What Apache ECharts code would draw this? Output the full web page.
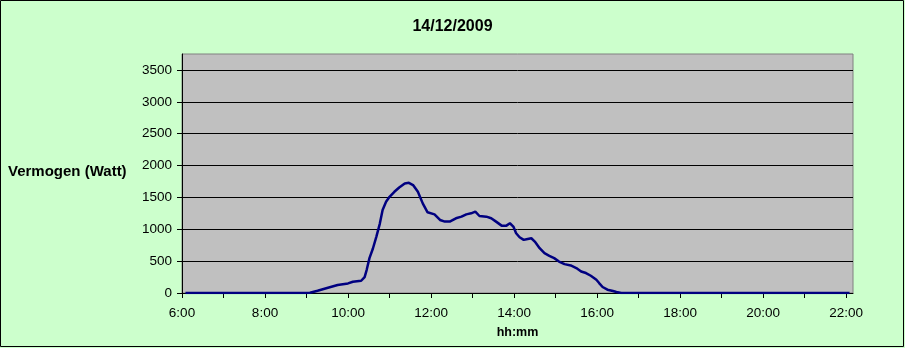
<!DOCTYPE html>
<html>
<head>
<meta charset="utf-8">
<script src="https://cdn.jsdelivr.net/npm/echarts@6/dist/echarts.min.js"></script>
<style>
html,body{margin:0;padding:0;background:#CCFFCC;}
#chart{width:905px;height:348px;}
</style>
</head>
<body>
<div id="chart"></div>
<script>
// ---- data ----
var chartTitle = "14/12/2009";
var yName = "Vermogen (Watt)";
var xName = "hh:mm";
var times = ["06:05","09:00","09:05","09:16","09:31","09:45","10:00","10:07","10:19","10:24","10:27","10:31","10:36","10:41","10:46","10:50","10:55","11:00","11:07","11:14","11:22","11:28","11:34","11:41","11:48","11:55","12:05","12:13","12:20","12:27","12:36","12:44","12:51","12:58","13:04","13:10","13:20","13:27","13:34","13:42","13:49","13:54","13:59","14:03","14:08","14:14","14:18","14:25","14:30","14:37","14:44","14:51","14:58","15:05","15:13","15:22","15:30","15:37","15:44","15:51","15:59","16:03","16:08","16:15","16:23","16:28","16:35","22:05"];
var power = [0,0,5,36,83,125,150,177,192,250,364,547,698,885,1089,1302,1432,1510,1588,1656,1719,1729,1693,1588,1406,1266,1234,1146,1120,1120,1172,1198,1234,1250,1276,1208,1198,1172,1120,1057,1057,1094,1042,938,875,833,844,859,807,703,625,583,547,494,453,432,391,338,313,271,208,156,94,52,31,16,0,0];
var xTickTimes = ["06:00","07:00","08:00","09:00","10:00","11:00","12:00","13:00","14:00","15:00","16:00","17:00","18:00","19:00","20:00","21:00","22:00"];
var xLabelTimes = ["06:00","08:00","10:00","12:00","14:00","16:00","18:00","20:00","22:00"];
var yTicks = [0,500,1000,1500,2000,2500,3000,3500];
var xRange = ["06:00","22:10"];
var yMax = 3750;

function toMin(s){var p=s.split(":");return parseInt(p[0],10)*60+parseInt(p[1],10);}
function fmt(m){var h=Math.floor(m/60);var mm=Math.round(m-h*60);return h+":"+(mm<10?"0":"")+mm;}

var seriesData = times.map(function(t,i){return [toMin(t), power[i]];});

var chart = echarts.init(document.getElementById('chart'), null, {renderer:'canvas'});
var font = "'Liberation Sans', Arial, sans-serif";
chart.setOption({
  backgroundColor: '#CCFFCC',
  animation: false,
  title: [{
    text: chartTitle, left: 'center', top: 19, padding: 0,
    textStyle: {fontFamily: font, fontSize: 16, fontWeight: 'bold', color: '#000'}
  },{
    text: yName, left: 8, top: 164, padding: 0,
    textStyle: {fontFamily: font, fontSize: 15, fontWeight: 'bold', color: '#000'}
  }],
  grid: {left: 182, right: 52, top: 54, bottom: 55, show: true,
         backgroundColor: '#C0C0C0', borderColor: '#808080', borderWidth: 1},
  xAxis: {
    type: 'value', min: toMin(xRange[0]), max: toMin(xRange[1]),
    name: xName, nameLocation: 'middle', nameGap: 33,
    nameTextStyle: {fontFamily: font, fontSize: 12.5, fontWeight: 'bold', color: '#000'},
    axisLine: {lineStyle: {color: '#000', width: 1}},
    axisTick: {show: true, length: 5, lineStyle: {color: '#000'}, customValues: xTickTimes.map(toMin)},
    axisLabel: {customValues: xLabelTimes.map(toMin), formatter: function(v){return fmt(v);},
                fontFamily: font, fontSize: 13.5, color: '#000', margin: 13},
    splitLine: {show: false}
  },
  yAxis: {
    type: 'value', min: 0, max: yMax,
    axisLine: {show: true, lineStyle: {color: '#000', width: 1}},
    axisTick: {show: true, length: 5, lineStyle: {color: '#000'}, customValues: yTicks},
    axisLabel: {customValues: yTicks, formatter: function(v){return String(v);},
                fontFamily: font, fontSize: 13.5, color: '#000', margin: 10},
    splitLine: {show: true, lineStyle: {color: ['#000','#000','#000','#000','#000','#000','#000','#000','#808080'], width: 1}}
  },
  series: [{
    type: 'line', data: seriesData, showSymbol: false, symbol: 'none',
    lineStyle: {color: '#000080', width: 2.5}, clip: true
  }],
  graphic: [{
    type: 'rect', shape: {x: 0.5, y: 0.5, width: 903, height: 346},
    style: {fill: 'none', stroke: '#000', lineWidth: 1}, silent: true, z: 100
  }]
});
</script>
</body>
</html>
